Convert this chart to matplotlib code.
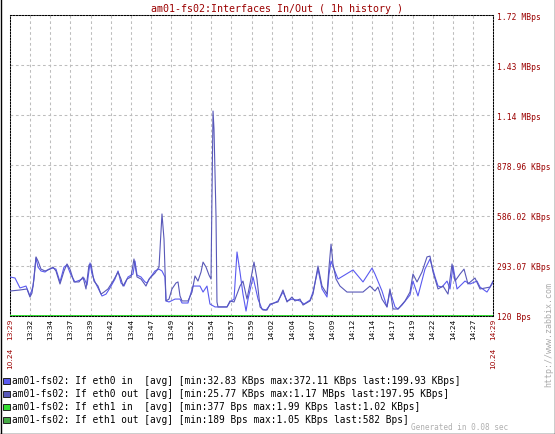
import matplotlib
matplotlib.use("Agg")
import matplotlib.pyplot as plt
from matplotlib.patches import Rectangle
from matplotlib.lines import Line2D

# ---- data (minutes after 13:29, values in KBps) ----
out_t = [0, 1.24, 2.11, 2.48, 2.73, 2.98, 3.23, 3.48, 3.85, 4.35, 4.97, 5.34, 5.71, 6.21, 6.71, 7.08,
         7.45, 7.95, 8.57, 9.07, 9.44, 9.81, 10.06, 10.43, 10.93, 11.30, 11.68, 12.17, 12.80, 13.42,
         13.79, 14.04, 14.53, 15.03, 15.40, 15.78, 16.27, 16.89, 17.27, 18.01, 18.51, 18.88, 19.13,
         19.38, 19.75, 20.12, 20.62, 20.87, 21.12, 21.37, 22.11, 22.61, 22.98, 23.35, 23.73, 23.98,
         24.35, 24.72, 24.97, 25.09, 25.22, 25.34, 25.59, 25.71, 25.84, 26.96, 27.33, 27.83, 28.57,
         28.94, 29.44, 29.81, 30.31, 30.68, 31.06, 31.43, 31.93, 32.30, 33.29, 33.91, 34.41, 35.03,
         35.40, 36.02, 36.40, 37.27, 37.64, 38.26, 38.76, 39.38, 39.63, 39.88, 40.12, 40.50, 40.99,
         41.86, 43.85, 44.72, 45.34, 45.71, 46.21, 46.83, 47.20, 47.58, 48.20, 49.07, 49.69, 50.06,
         50.56, 51.18, 51.80, 52.17, 52.55, 53.17, 53.79, 54.41, 54.91, 55.28, 55.90, 56.40, 56.89,
         57.76, 58.39, 59.63, 60]
out_v = [146, 152, 158, 111, 134, 216, 345, 321, 274, 263, 274, 286, 263, 187, 263, 304,
         274, 199, 199, 228, 158, 298, 304, 204, 175, 128, 140, 158, 204, 257,
         216, 175, 216, 228, 333, 228, 216, 175, 216, 251, 286, 596, 450,
         88, 99, 158, 193, 199, 117, 88, 88, 140, 234, 204, 257, 315,
         286, 239, 216, 701, 1197, 1092, 584, 82, 53, 53, 88, 82, 175,
         204, 99, 187, 315, 216, 53, 35, 35, 70, 82, 152, 82, 111,
         88, 99, 64, 88, 128, 292, 175, 128, 286, 420, 304, 216, 175,
         140, 140, 175, 146, 169, 99, 53, 158, 41, 41, 88, 140, 245,
         199, 257, 345, 350, 257, 158, 175, 128, 304, 204, 245, 274, 187,
         222, 158, 169, 204]

in_t = [0, 0.62, 1.24, 1.99, 2.48, 2.86, 3.23, 3.48, 3.85, 4.35, 4.84, 5.34, 5.71, 6.21, 6.71, 7.08,
        7.58, 8.07, 8.70, 9.19, 9.57, 9.94, 10.19, 10.56, 10.93, 11.43, 11.93, 12.42, 13.04, 13.42,
        13.79, 14.16, 14.66, 15.28, 15.53, 15.78, 16.27, 16.77, 17.02, 17.39, 18.01, 18.51, 18.88,
        19.25, 19.38, 19.75, 20.50, 21.12, 21.37, 22.11, 22.73, 23.60, 23.98, 24.47, 24.84, 25.47,
        26.96, 27.33, 27.83, 28.20, 28.57, 28.94, 29.32, 29.57, 30.19, 30.81, 31.30, 31.80, 32.30,
        33.29, 33.91, 34.41, 35.03, 35.65, 36.02, 36.52, 37.27, 37.64, 38.26, 38.76, 39.38, 39.63,
        39.88, 40.25, 40.75, 42.61, 43.85, 44.97, 45.34, 46.21, 46.83, 47.20, 47.83, 48.20, 48.70,
        49.69, 50.06, 50.68, 51.55, 52.17, 52.80, 53.17, 53.66, 54.29, 54.66, 55.03, 55.53, 56.52,
        57.14, 58.01, 58.39, 59.25, 59.88, 60]
in_v = [228, 222, 164, 175, 117, 175, 339, 286, 263, 257, 274, 280, 274, 199, 286, 298,
        239, 199, 210, 222, 181, 310, 245, 199, 164, 117, 128, 164, 216, 263,
        193, 175, 228, 245, 321, 239, 228, 199, 193, 222, 263, 274, 263,
        228, 88, 82, 99, 99, 76, 76, 175, 175, 140, 175, 70, 53,
        53, 82, 99, 374, 257, 128, 29, 99, 228, 99, 41, 35, 64,
        88, 140, 88, 99, 93, 88, 70, 93, 140, 274, 158, 111, 245,
        321, 274, 216, 269, 199, 280, 245, 146, 53, 146, 53, 41, 64,
        123, 204, 117, 274, 333, 228, 175, 169, 204, 158, 292, 158, 204,
        187, 204, 169, 140, 187, 199]

eth1_t = [0, 10, 20, 30, 40, 50, 60]
eth1_in_v = [1.1, 0.9, 1.4, 0.8, 1.2, 0.9, 1.02]
eth1_out_v = [0.5, 0.6, 0.4, 0.7, 0.5, 0.6, 0.57]

x_tick_min = [2.5 * k for k in range(1, 24)]
x_tick_labels = ["13:32", "13:34", "13:37", "13:39", "13:42", "13:44", "13:47", "13:49",
                 "13:52", "13:54", "13:57", "13:59", "14:02", "14:04", "14:07", "14:09",
                 "14:12", "14:14", "14:17", "14:19", "14:22", "14:24", "14:27"]
y_ticks = [0.117, 293.07, 586.02, 878.96, 1171.9, 1464.85, 1757.8]
y_tick_labels = ["120 Bps", "293.07 KBps", "586.02 KBps", "878.96 KBps",
                 "1.14 MBps", "1.43 MBps", "1.72 MBps"]

title = "am01-fs02:Interfaces In/Out ( 1h history )"
legend_labels = [
    "am01-fs02: If eth0 in  [avg] [min:32.83 KBps max:372.11 KBps last:199.93 KBps]",
    "am01-fs02: If eth0 out [avg] [min:25.77 KBps max:1.17 MBps last:197.95 KBps]",
    "am01-fs02: If eth1 in  [avg] [min:377 Bps max:1.99 KBps last:1.02 KBps]",
    "am01-fs02: If eth1 out [avg] [min:189 Bps max:1.05 KBps last:582 Bps]",
]
colors = ["#5A5AF0", "#5858B8", "#33DD33", "#44AA44"]

RED = "#9B0000"
MONO = "DejaVu Sans Mono"

W, H = 555, 435
fig = plt.figure(figsize=(W / 100, H / 100), dpi=100)
fig.patch.set_facecolor("white")
ax = fig.add_axes([10 / W, 1 - 317 / H, 483 / W, 301 / H])

ax.plot(eth1_t, eth1_out_v, color=colors[3], lw=1.2, zorder=3)
ax.plot(eth1_t, eth1_in_v, color=colors[2], lw=1.2, zorder=3)
ax.plot(in_t, in_v, color=colors[0], lw=0.8, zorder=4)
ax.plot(out_t, out_v, color=colors[1], lw=0.8, zorder=4)

ax.set_xlim(0, 60)
ax.set_ylim(y_ticks[0], y_ticks[-1])
ax.set_xticks(x_tick_min)
ax.set_xticklabels(x_tick_labels, rotation=90, fontsize=5.3, family="DejaVu Sans",
                   color="black")
ax.yaxis.tick_right()
ax.set_yticks(y_ticks)
ax.set_yticklabels(y_tick_labels, fontsize=5.8, family=MONO, color=RED)
ax.tick_params(axis="both", length=0)
ax.tick_params(axis="x", pad=1.5)
ax.tick_params(axis="y", pad=3)
ax.grid(True, color="#bdbdbd", linestyle=(0, (2.6, 2.6)), lw=0.75)
ax.set_axisbelow(True)
for s in ax.spines.values():
    s.set_linestyle((0, (1.4, 1.4)))
    s.set_linewidth(0.75)
    s.set_color("black")

# edge date/time labels
for xm, tl in [(0, "13:29"), (60, "14:29")]:
    ax.text(xm, -0.005, tl, transform=ax.get_xaxis_transform(), rotation=90, ha="center",
            va="top", fontsize=5.3, family="DejaVu Sans", color=RED)
    ax.text(xm, -0.102, "10.24", transform=ax.get_xaxis_transform(), rotation=90,
            ha="center", va="top", fontsize=5.3, family="DejaVu Sans", color=RED)

fig.text(277 / W, 1 - 8.5 / H, title, ha="center", va="center", fontsize=7.2,
         family=MONO, color=RED)

for i, (lab, c) in enumerate(zip(legend_labels, colors)):
    yc = 381.5 + 13 * i
    fig.patches.append(Rectangle((3 / W, 1 - (yc + 3.5) / H), 6.5 / W, 6.5 / H,
                                 transform=fig.transFigure, facecolor=c,
                                 edgecolor="#222222", lw=0.7))
    fig.text(12 / W, 1 - yc / H, lab, ha="left", va="center", fontsize=6.85,
             family=MONO, color="black")

fig.text(508 / W, 1 - 428 / H, "Generated in 0.08 sec", ha="right", va="center",
         fontsize=5.6, family=MONO, color="#b0b0b0")
fig.text(549 / W, 1 - 387 / H, "http://www.zabbix.com", ha="center", va="bottom",
         rotation=90, fontsize=6.0, family=MONO, color="#aaaaaa")

# outer border
for xs, ys in [([0.5 / W, 0.5 / W], [0, 1]), ([1 - 0.5 / W, 1 - 0.5 / W], [0, 1]),
               ([0, 1], [0.5 / H, 0.5 / H])]:
    fig.lines.append(Line2D(xs, ys, transform=fig.transFigure, color="black", lw=1.0))

fig.savefig("out.png", dpi=100)
